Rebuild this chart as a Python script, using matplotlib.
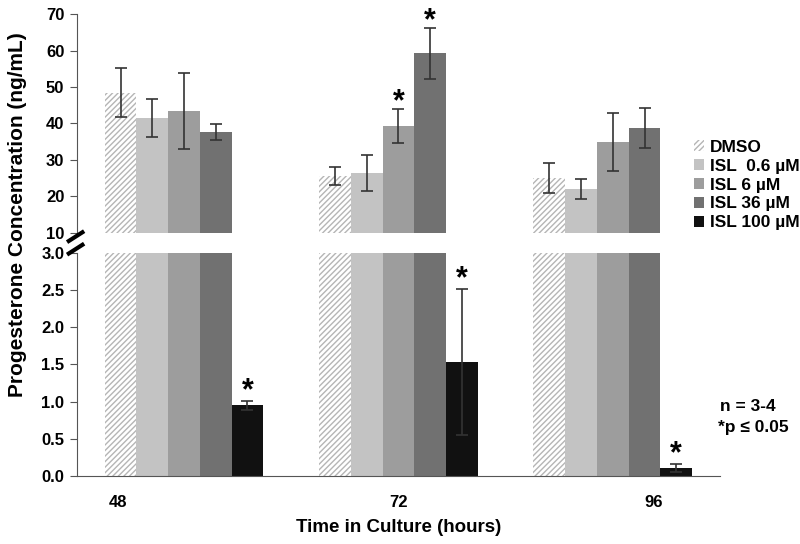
import matplotlib.pyplot as plt
import numpy as np

plt.rcParams['font.family'] = ['Liberation Sans', 'DejaVu Sans']
plt.rcParams['font.weight'] = 'bold'
plt.rcParams['hatch.linewidth'] = 1.0

hours = ['48', '72', '96']
groups = ['DMSO', 'ISL  0.6 \u00b5M', 'ISL 6 \u00b5M', 'ISL 36 \u00b5M', 'ISL 100 \u00b5M']
means = [
    [48.5, 25.6, 25.1],   # DMSO
    [41.5, 26.4, 22.0],   # ISL 0.6
    [43.4, 39.3, 35.0],   # ISL 6
    [37.7, 59.3, 38.8],   # ISL 36
    [0.95, 1.53, 0.11],   # ISL 100
]
errs = [
    [6.8, 2.5, 4.1],
    [5.2, 4.9, 2.8],
    [10.4, 4.6, 7.9],
    [2.2, 7.0, 5.4],
    [0.06, 0.98, 0.05],
]
# significance stars: (group index, hour index)
stars = [(2, 1), (3, 1), (4, 0), (4, 1), (4, 2)]

colors = ['white', '#c3c3c3', '#9d9d9d', '#717171', '#111111']
x = np.arange(len(hours))
w = 0.148

fig = plt.figure(figsize=(8, 5.44), dpi=100)
ax_top = fig.add_axes([0.096, 0.572, 0.804, 0.402])
ax_bot = fig.add_axes([0.096, 0.125, 0.804, 0.41])

for i in range(len(groups)):
    pos = x + (i - 2) * w
    for ax in (ax_top, ax_bot):
        if i == 0:
            ax.bar(pos, means[i], w, color='white', edgecolor='#b5b5b5',
                   hatch='//////', linewidth=0, label=groups[i])
        else:
            ax.bar(pos, means[i], w, color=colors[i], linewidth=0, label=groups[i])
    for j in range(len(hours)):
        ax = ax_bot if means[i][j] < 3 else ax_top
        ax.errorbar(pos[j], means[i][j], yerr=errs[i][j], fmt='none',
                    ecolor='#333333', elinewidth=1.2, capsize=4, capthick=1.2)

for i, j in stars:
    pos = x[j] + (i - 2) * w
    top = means[i][j] + errs[i][j]
    ax = ax_bot if means[i][j] < 3 else ax_top
    off = 0.13 if ax is ax_bot else 1.8
    ax.text(pos, top + off, '*', ha='center', va='center', fontsize=22,
            clip_on=False)

ax_top.set_ylim(10, 70)
ax_top.set_yticks([10, 20, 30, 40, 50, 60, 70])
ax_bot.set_ylim(0, 3.0)
ax_bot.set_yticks(np.arange(0, 3.01, 0.5))
ax_bot.set_yticklabels(['%.1f' % v for v in np.arange(0, 3.01, 0.5)])

for ax in (ax_top, ax_bot):
    ax.set_xlim(-0.5, 2.5)
    for s in ['top', 'right']:
        ax.spines[s].set_visible(False)
    ax.spines['left'].set_color('#555555')
    ax.tick_params(axis='y', labelsize=12, length=5, color='#555555', pad=4)
ax_top.spines['bottom'].set_visible(False)
ax_top.set_xticks([])
ax_bot.spines['bottom'].set_color('#555555')
ax_bot.set_xticks([-0.31, 1.0, 2.19])
ax_bot.set_xticklabels(hours)
ax_bot.tick_params(axis='x', length=0, pad=14, labelsize=12)

# break marks
kw = dict(transform=fig.transFigure, color='black', lw=3, clip_on=False)
for yb in [0.565, 0.542]:
    fig.add_artist(plt.Line2D([0.086, 0.103], [yb - 0.008, yb + 0.008], **kw))

ax_bot.set_xlabel('Time in Culture (hours)', fontsize=13.5, fontweight='bold',
                  labelpad=6)
fig.text(0.022, 0.605, 'Progesterone Concentration (ng/mL)', rotation=90,
         ha='center', va='center', fontsize=15)

handles, labels = ax_top.get_legend_handles_labels()
fig.legend(handles, labels, loc='upper left', bbox_to_anchor=(0.852, 0.765),
           frameon=False, fontsize=12.5, handlelength=0.6, handleheight=0.6,
           handletextpad=0.35, labelspacing=0.22, borderpad=0.2)

fig.text(0.9, 0.245, 'n = 3-4', fontsize=12.5)
fig.text(0.898, 0.205, '*p \u2264 0.05', fontsize=12.5)

fig.savefig('out.png', dpi=100)
